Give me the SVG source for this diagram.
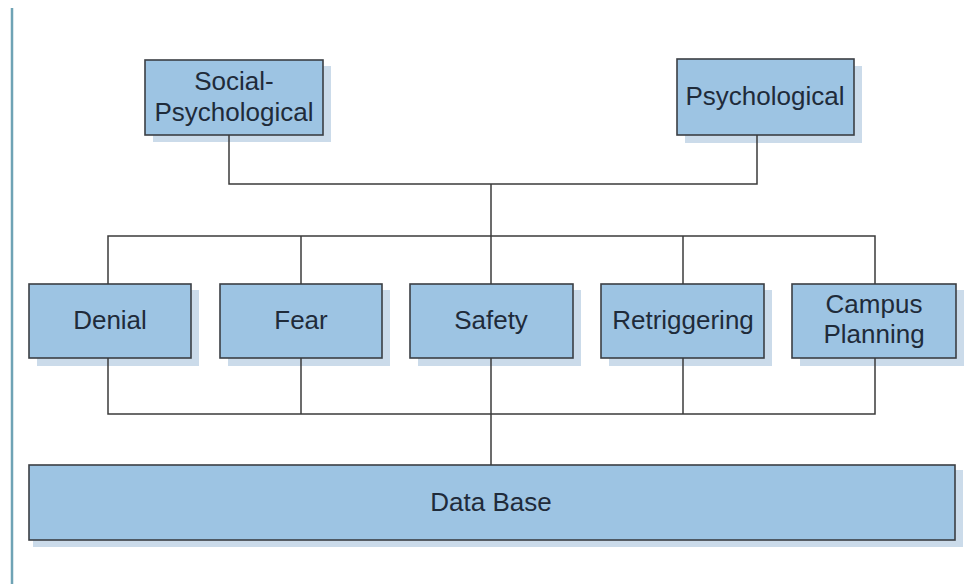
<svg xmlns="http://www.w3.org/2000/svg" width="968" height="584" viewBox="0 0 968 584">
<style>
.box{fill:#9dc4e3;stroke:#3b3f44;stroke-width:1.6}
.sh{fill:#cbdbea}
.t{font-family:"Liberation Sans",Arial,sans-serif;font-size:26px;fill:#1f2b3a;text-anchor:middle}
.c{fill:none;stroke:#3b3b3b;stroke-width:1.5}
</style>
<rect width="968" height="584" fill="#ffffff"/>
<line x1="12" y1="8" x2="12" y2="584" stroke="#6fa3b5" stroke-width="2.5"/>
<g id="social">
<rect class="sh" x="153" y="66" width="178" height="76"/>
<rect class="box" x="145" y="60" width="178" height="75"/>
<text class="t" x="234" y="90">Social-</text>
<text class="t" x="234" y="121">Psychological</text>
</g>
<g id="psych">
<rect class="sh" x="685" y="66" width="177" height="77"/>
<rect class="box" x="677" y="59" width="177" height="76"/>
<text class="t" x="765" y="105">Psychological</text>
</g>
<g id="denial">
<rect class="sh" x="37" y="290" width="162" height="76"/>
<rect class="box" x="29" y="284" width="162" height="74"/>
<text class="t" x="110" y="329">Denial</text>
</g>
<g id="fear">
<rect class="sh" x="228" y="290" width="162" height="76"/>
<rect class="box" x="220" y="284" width="162" height="74"/>
<text class="t" x="301" y="329">Fear</text>
</g>
<g id="safety">
<rect class="sh" x="418" y="290" width="163" height="76"/>
<rect class="box" x="410" y="284" width="163" height="74"/>
<text class="t" x="491" y="329">Safety</text>
</g>
<g id="retriggering">
<rect class="sh" x="609" y="290" width="163" height="76"/>
<rect class="box" x="601" y="284" width="163" height="74"/>
<text class="t" x="683" y="329">Retriggering</text>
</g>
<g id="campus">
<rect class="sh" x="800" y="290" width="164" height="76"/>
<rect class="box" x="792" y="284" width="164" height="74"/>
<text class="t" x="874" y="313">Campus</text>
<text class="t" x="874" y="343">Planning</text>
</g>
<g id="database">
<rect class="sh" x="33" y="470" width="930" height="77"/>
<rect class="box" x="29" y="465" width="926" height="75"/>
<text class="t" x="491" y="511">Data Base</text>
</g>
<g id="connectors">
<polyline class="c" points="229,135 229,184 757,184 757,135"/>
<line class="c" x1="491" y1="184" x2="491" y2="236"/>
<polyline class="c" points="108,284 108,236 875,236 875,284"/>
<line class="c" x1="301" y1="236" x2="301" y2="284"/>
<line class="c" x1="491" y1="236" x2="491" y2="284"/>
<line class="c" x1="683" y1="236" x2="683" y2="284"/>
<polyline class="c" points="108,358 108,414 875,414 875,358"/>
<line class="c" x1="301" y1="358" x2="301" y2="414"/>
<line class="c" x1="491" y1="358" x2="491" y2="465"/>
<line class="c" x1="683" y1="358" x2="683" y2="414"/>
</g>
</svg>
